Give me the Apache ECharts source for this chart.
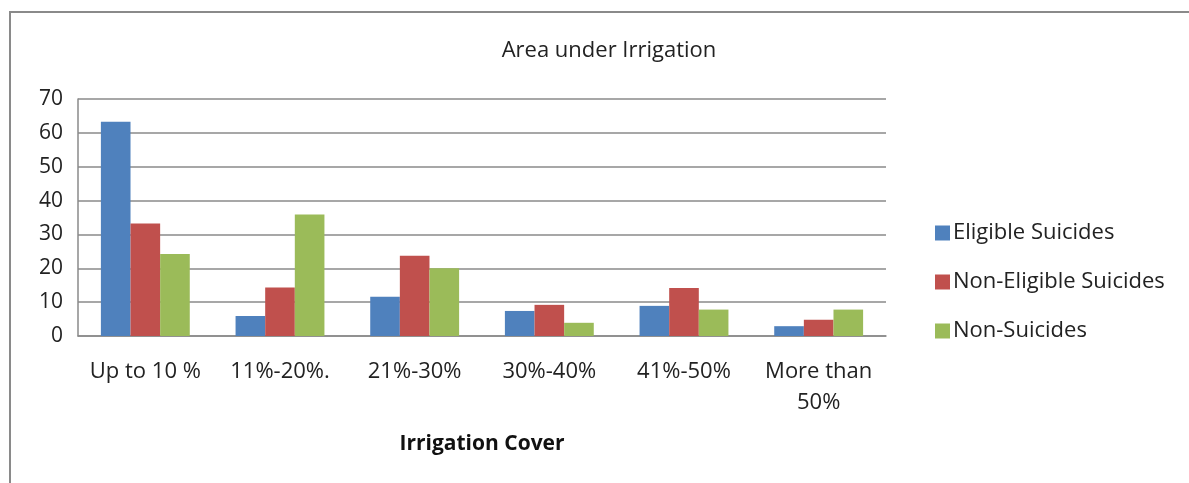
<!DOCTYPE html>
<html lang="en">
  <head>
    <meta charset="UTF-8" />
    <title>Area under Irrigation</title>
    <script src="https://cdn.jsdelivr.net/npm/echarts@6.0.0/dist/echarts.min.js"></script>
    <style>
      html, body { margin: 0; padding: 0; background: #fff; }
      #frame {
        position: absolute; left: 9px; top: 11px; width: 1200px; height: 500px;
        border-left: 2px solid #8a8a8a; border-top: 2px solid #8a8a8a;
      }
      #chart { position: absolute; left: 0; top: 0; width: 1189px; height: 483px; }
    </style>
  </head>
  <body>
    <div id="frame"></div>
    <div id="chart"></div>
    <script>
      // chart data
      var categories = ["Up to 10 %", "11%-20%.", "21%-30%", "30%-40%", "41%-50%", "More than\n50%"];
      var eligible = [63.3, 5.9, 11.6, 7.4, 8.9, 2.9];
      var nonEligible = [33.2, 14.3, 23.7, 9.2, 14.2, 4.8];
      var nonSuicides = [24.2, 35.9, 20, 3.9, 7.8, 7.8];
      var seriesNames = ["Eligible Suicides", "Non-Eligible Suicides", "Non-Suicides"];
      var colors = ["#4f81bd", "#c0504d", "#9bbb59"];

      var font = "Open Sans";
      var myChart = echarts.init(document.getElementById("chart"));

      function bar(name, data, i) {
        return {
          name: name,
          type: "bar",
          data: data,
          barGap: "0%",
          barCategoryGap: "34%",
          itemStyle: { color: colors[i] },
          emphasis: { disabled: true }
        };
      }

      var option = {
        animation: false,
        textStyle: { fontFamily: font },
        title: {
          text: "Area under Irrigation",
          left: 604,
          textAlign: "center",
          top: 35,
          textStyle: { fontSize: 22, fontWeight: "normal", color: "#222", fontFamily: font }
        },
        legend: {
          orient: "vertical",
          left: 930,
          top: 217,
          itemWidth: 15,
          itemHeight: 15,
          itemGap: 27,
          icon: "rect",
          textStyle: { fontSize: 22, color: "#222", padding: [0, 0, 0, -2] },
          data: seriesNames
        },
        grid: { left: 78, right: 303, top: 99, bottom: 147 },
        xAxis: {
          type: "category",
          data: categories,
          name: "Irrigation Cover",
          nameLocation: "middle",
          nameGap: 98,
          nameTextStyle: { fontSize: 21, fontWeight: "bold", color: "#111" },
          axisLine: { lineStyle: { color: "#8a8a8a", width: 1.5 } },
          axisTick: { show: false },
          axisLabel: { fontSize: 22, color: "#222", margin: 20, lineHeight: 31, interval: 0 }
        },
        yAxis: {
          type: "value",
          min: 0,
          max: 70,
          interval: 10,
          axisLine: { show: true, lineStyle: { color: "#8a8a8a", width: 1.5 } },
          axisTick: { show: false },
          splitLine: { lineStyle: { color: "#8a8a8a", width: 1.5 } },
          axisLabel: { fontSize: 21, color: "#222", margin: 15 }
        },
        series: [
          bar(seriesNames[0], eligible, 0),
          bar(seriesNames[1], nonEligible, 1),
          bar(seriesNames[2], nonSuicides, 2)
        ]
      };

      myChart.setOption(option);
    </script>
  </body>
</html>
